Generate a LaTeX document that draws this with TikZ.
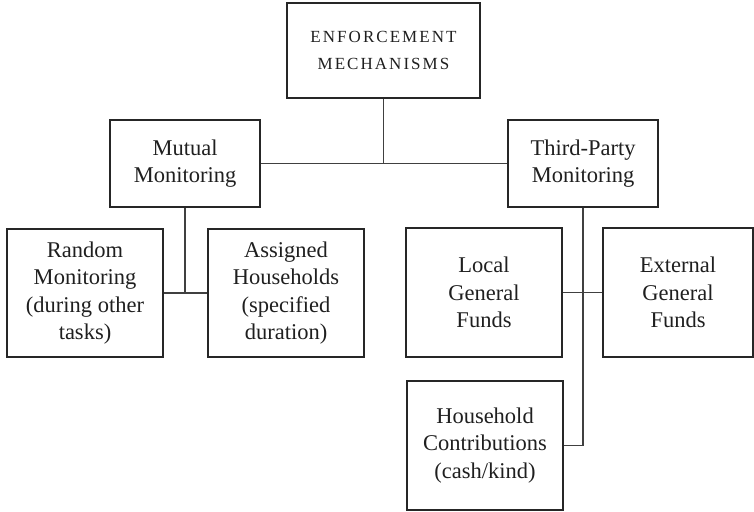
\documentclass[tikz,border=0pt]{standalone}
\usepackage{fontspec}
\setmainfont{Liberation Serif}
\begin{document}
\begin{tikzpicture}[x=1pt,y=-1pt,
  box/.style={draw=black!85, line width=1.1pt, rectangle, align=center, inner sep=0pt,
    text=black!88, font=\fontsize{22.5}{27.5}\selectfont},
  link/.style={draw=black!75, line width=1.1pt}]
\useasboundingbox (0,0) rectangle (754,511);
\node[box, minimum width=193pt, minimum height=95pt,
  font=\fontsize{17}{27}\selectfont\addfontfeatures{LetterSpace=12}] (top) at (383.5,50.5) {ENFORCEMENT\\MECHANISMS};
\node[box, minimum width=150pt, minimum height=87pt] (mutual) at (185,163.5) {Mutual\\Monitoring};
\node[box, minimum width=150pt, minimum height=87pt] (third) at (583,163.5) {Third-Party\\Monitoring};
\node[box, minimum width=156pt, minimum height=128pt] (random) at (85,293) {Random\\Monitoring\\(during other\\tasks)};
\node[box, minimum width=156pt, minimum height=128pt] (assigned) at (286,293) {Assigned\\Households\\(specified\\duration)};
\node[box, minimum width=156pt, minimum height=129pt] (local) at (484,292.5) {Local\\General\\Funds};
\node[box, minimum width=150pt, minimum height=129pt] (external) at (678,292.5) {External\\General\\Funds};
\node[box, minimum width=156pt, minimum height=129pt] (household) at (485,445.5) {Household\\Contributions\\(cash/kind)};
\coordinate (j1) at (top.south |- mutual.east);
\coordinate (j2) at (mutual.south |- random.east);
\coordinate (j3) at (third.south |- household.east);
\draw[link] (mutual.east) -- (third.west);
\draw[link] (top.south) -- (j1);
\draw[link] (mutual.south) -- (j2);
\draw[link] (random.east) -- (assigned.west);
\draw[link] (third.south) -- (j3) -- (household.east);
\draw[link] (local.east) -- (external.west);
\end{tikzpicture}
\end{document}
